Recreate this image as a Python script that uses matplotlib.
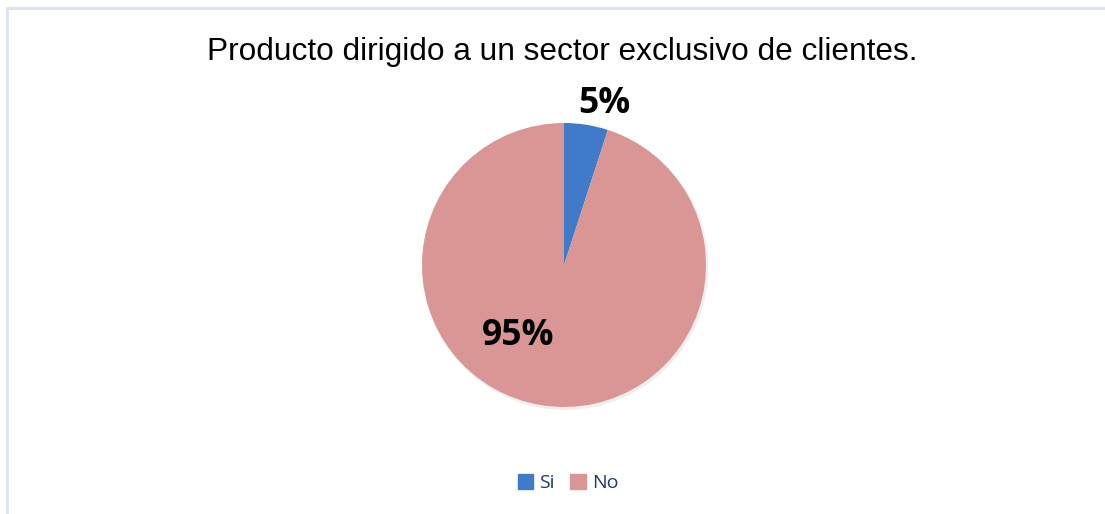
import matplotlib.pyplot as plt
from matplotlib.patches import Rectangle

categories = ["Si", "No"]
values = [5, 95]
labels = ["5%", "95%"]
colors = ["#3F7BC8", "#D99694"]

W, H = 1105, 514
fig = plt.figure(figsize=(W / 100, H / 100), dpi=100)
ax = fig.add_axes([0, 0, 1, 1])

# chart border
ax.add_patch(Rectangle((7, -20), W + 20, H - 8 + 20, fill=False,
                       edgecolor="#DAE4F2", linewidth=2))

cx, cy, r = 564, H - 265, 142
# faint shadow
ax.pie([1], colors=["#EFEFEF"], radius=r + 1, center=(cx + 1.5, cy - 2),
       frame=True, wedgeprops=dict(linewidth=0))
wedges, _ = ax.pie(values, colors=colors, radius=r, center=(cx, cy),
                   startangle=90, counterclock=False, frame=True,
                   wedgeprops=dict(linewidth=0))
ax.set_xlim(0, W)
ax.set_ylim(0, H)
ax.set_aspect("equal")
ax.axis("off")

ax.text(cx + 40, cy + 161, labels[0], ha="center", va="center",
        fontsize=25.5, fontweight="bold", family="Open Sans")
ax.text(cx - 46, cy - 71, labels[1], ha="center", va="center",
        fontsize=25.5, fontweight="bold", family="Open Sans")

ax.text(cx - 2, H - 52, "Producto dirigido a un sector exclusivo de clientes.",
        ha="center", va="center", fontsize=22.8, family="Liberation Sans")

handles = [Rectangle((0, 0), 1, 1, color=c) for c in colors]
leg = fig.legend(handles, categories, loc="center", bbox_to_anchor=((cx + 4) / W, 1 - 483 / H),
                 ncol=2, frameon=False, handlelength=0.8, handleheight=0.8,
                 handletextpad=0.3, columnspacing=0.8, prop={"family": "Open Sans", "size": 14})
for t in leg.get_texts():
    t.set_color("#1F3B6E")

fig.savefig("out.png", dpi=100)
